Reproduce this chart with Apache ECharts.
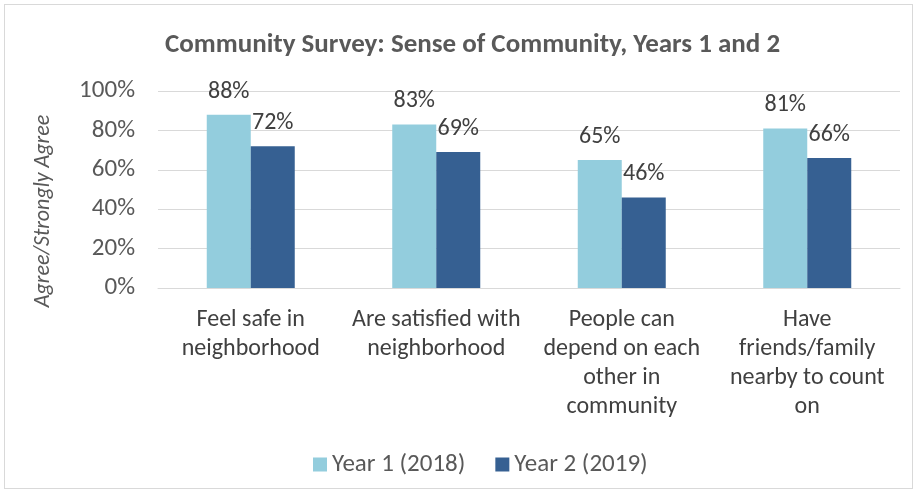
<!DOCTYPE html>
<html>
<head>
    <meta charset="utf-8">
    <title>Community Survey</title>
    <script src="https://cdn.jsdelivr.net/npm/echarts@6/dist/echarts.min.js"></script>
    <style>
        html, body { margin: 0; padding: 0; background: #fff; }
        #frame { position: absolute; left: 4px; top: 4px; width: 907px; height: 483px; border: 1px solid #d9d9d9; }
        #main { position: absolute; left: 0; top: 0; width: 919px; height: 492px; }
    </style>
</head>
<body>
<div id="frame"></div>
<div id="main"></div>
<script type="text/javascript">
    // data
    var categories = [
        'Feel safe in\nneighborhood',
        'Are satisfied with\nneighborhood',
        'People can\ndepend on each\nother in\ncommunity',
        'Have\nfriends/family\nnearby to count\non'
    ];
    var year1 = [88, 83, 65, 81];
    var year2 = [72, 69, 46, 66];
    var seriesNames = ['Year 1 (2018)', 'Year 2 (2019)'];
    var yTicks = [0, 20, 40, 60, 80, 100];

    var font = 'Carlito, "Liberation Sans Narrow", "Open Sans", sans-serif';

    var myChart = echarts.init(document.getElementById('main'));

    var option = {
        title: {
            text: 'Community Survey: Sense of Community, Years 1 and 2',
            left: 160,
            top: 27,
            textStyle: { fontFamily: font, fontSize: 27, fontWeight: 'bold', color: '#595959' }
        },
        legend: {
            top: 447,
            left: 308,
            itemWidth: 14,
            itemHeight: 14,
            itemGap: 30,
            icon: 'rect',
            textStyle: { fontFamily: font, fontSize: 25, color: '#595959' },
            data: seriesNames
        },
        grid: { left: 158, right: 19, top: 91, bottom: 204 },
        graphic: [{
            type: 'text',
            x: 43,
            y: 211,
            rotation: Math.PI / 2,
            style: {
                text: 'Agree/Strongly Agree',
                fontFamily: font,
                fontSize: 22,
                fontStyle: 'italic',
                fill: '#595959',
                align: 'center',
                verticalAlign: 'middle'
            }
        }],
        xAxis: {
            type: 'category',
            data: categories,
            axisLine: { lineStyle: { color: '#d9d9d9' } },
            axisTick: { show: false },
            axisLabel: { interval: 0, fontFamily: font, fontSize: 24, color: '#404040', lineHeight: 29, margin: 17 }
        },
        yAxis: {
            type: 'value',
            min: yTicks[0],
            max: yTicks[yTicks.length - 1],
            interval: 20,
            splitLine: { lineStyle: { color: '#d9d9d9' } },
            axisLabel: { fontFamily: font, fontSize: 25, color: '#595959', margin: 23, formatter: '{value}%' }
        },
        series: [
            {
                name: seriesNames[0],
                type: 'bar',
                data: year1,
                barWidth: 44,
                barGap: '0%',
                itemStyle: { color: '#93cddd' },
                label: { show: true, position: 'top', fontFamily: font, fontSize: 24, color: '#404040', formatter: '{c}%', distance: 11 }
            },
            {
                name: seriesNames[1],
                type: 'bar',
                data: year2,
                barWidth: 44,
                itemStyle: { color: '#366092' },
                label: { show: true, position: 'top', fontFamily: font, fontSize: 24, color: '#404040', formatter: '{c}%', distance: 11 }
            }
        ]
    };

    myChart.setOption(option);
</script>
</body>
</html>
